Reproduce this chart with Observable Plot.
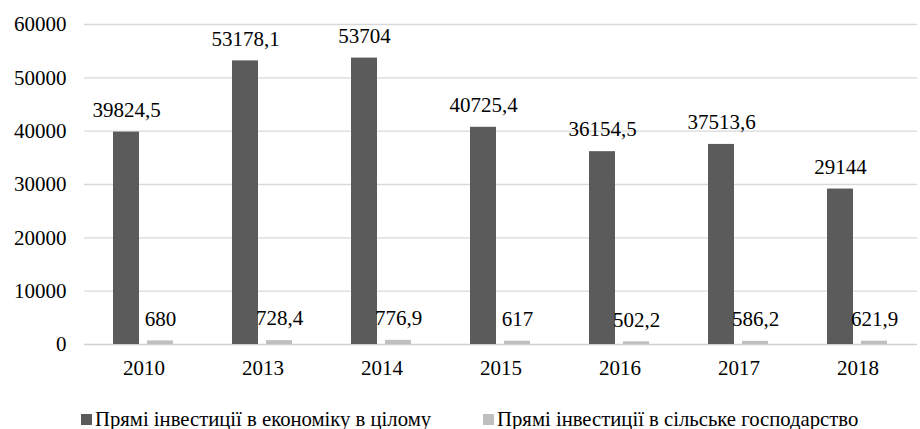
<!DOCTYPE html>
<html><head><meta charset="utf-8">
<script src="https://cdn.jsdelivr.net/npm/d3@7"></script>
<script src="https://cdn.jsdelivr.net/npm/@observablehq/plot@0.6"></script>
<style>
body{margin:0;background:#fff;font-family:'Liberation Serif',serif;}
#chart{position:absolute;left:0;top:0;}
#chart svg, #chart svg text{font-family:'Liberation Serif',serif !important;font-size:21px !important;}
#legend{position:absolute;left:81px;top:403px;width:880px;white-space:nowrap;}
#legend, #legend *{font-family:'Liberation Serif',serif !important;font-size:20.7px !important;color:#000;}
#legend span{margin-right:52px !important;}
#legend svg{margin-right:3px !important;}
</style></head><body><div id="chart"></div><div id="legend"></div>
<script>
const years = ["2010","2013","2014","2015","2016","2017","2018"];
const seriesNames = ["Прямі інвестиції в економіку в цілому","Прямі інвестиції в сільське господарство"];
const economyValues = [39824.5,53178.1,53704,40725.4,36154.5,37513.6,29144];
const agroValues = [680,728.4,776.9,617,502.2,586.2,621.9];
const yTicks = [0,10000,20000,30000,40000,50000,60000];
const colors = ["#5b5b5b","#bfbfbf"];

const data = years.flatMap((y,i)=>[
  {year:y, series:seriesNames[0], value:economyValues[i]},
  {year:y, series:seriesNames[1], value:agroValues[i]}
]);
const fmt = v => String(v).replace(".", ",");

const chart = Plot.plot({
  width: 920, height: 390,
  marginLeft: 81, marginRight: 0, marginTop: 24, marginBottom: 46,
  style: {background:"#fff", overflow:"visible", color:"#000"},
  fx: {domain: years, padding: 0, label: null, tickSize: 0, tickPadding: 16, axis: "bottom"},
  x: {domain: seriesNames, axis: null, paddingInner: 0.23, paddingOuter: 0.83},
  y: {domain: [0,60000], ticks: yTicks, tickSize: 0, tickPadding: 18, label: null, tickFormat: d=>String(d)},
  color: {domain: seriesNames, range: colors},
  marks: [
    Plot.ruleY(yTicks.filter(d=>d>0), {stroke:"#d9d9d9", strokeWidth: 1.4}),
    Plot.ruleY([0], {stroke:"#d0d0d0", strokeWidth: 1.4}),
    Plot.barY(data, {fx:"year", x:"series", y:"value", fill:"series"}),
    Plot.text(data, {fx:"year", x:"series", y:"value", text: d=>fmt(d.value), dy:-22, fill:"#000"})
  ]
});
document.getElementById("chart").appendChild(chart);

const legend = Plot.legend({
  color: {domain: seriesNames, range: colors},
  legend: "swatches",
  swatchSize: 11
});
document.getElementById("legend").appendChild(legend);
</script></body></html>
